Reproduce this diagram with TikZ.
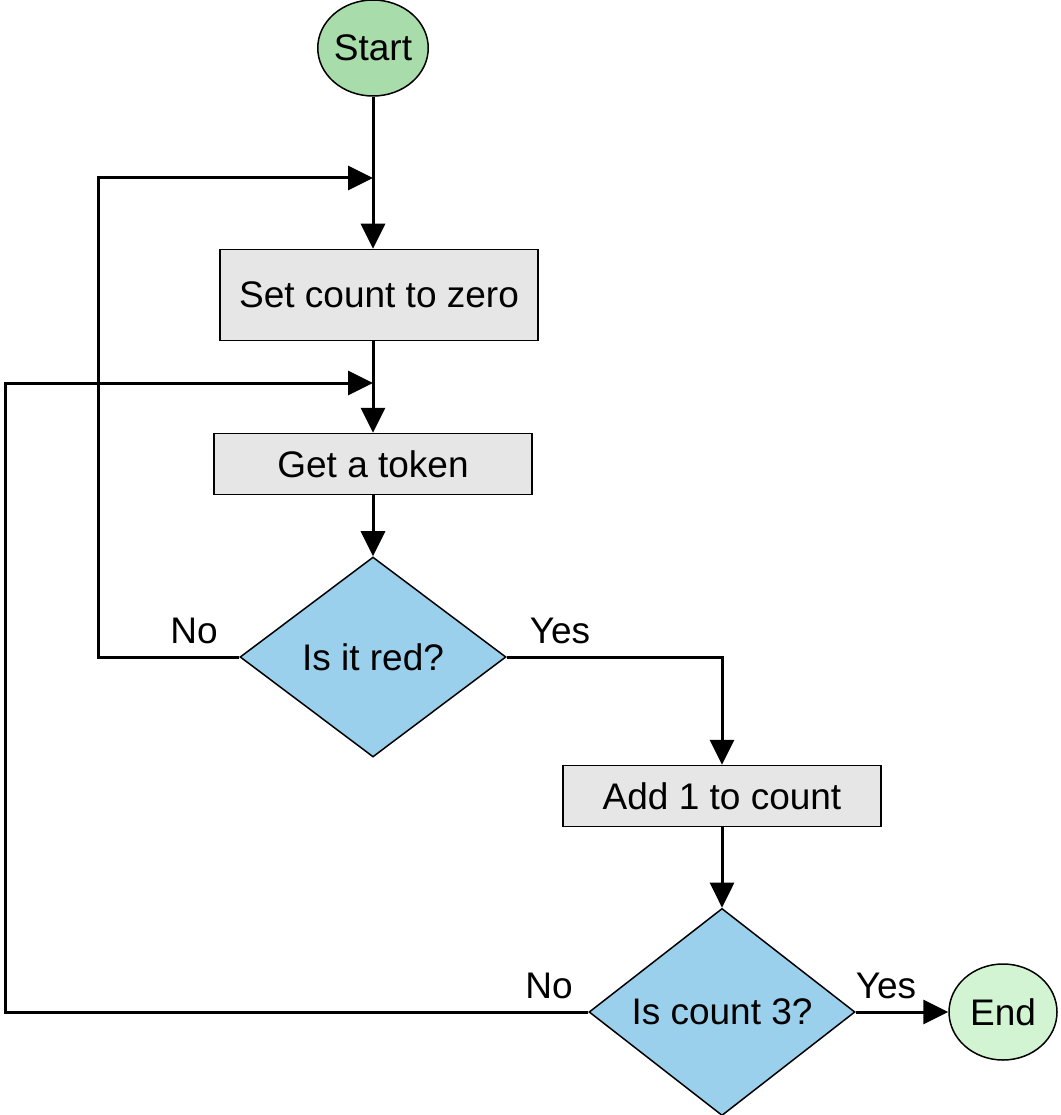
\documentclass[tikz,border=0pt]{standalone}
\usepackage{fontspec}
\setmainfont{Liberation Sans}
\usetikzlibrary{shapes.geometric}
\usetikzlibrary{arrows.meta}
\usetikzlibrary{positioning}
\usetikzlibrary{calc}
\definecolor{startgreen}{HTML}{A8DCAA}
\definecolor{endgreen}{HTML}{D2F4D2}
\definecolor{boxgrey}{HTML}{E6E6E6}
\definecolor{askblue}{HTML}{9BD0EC}
\tikzset{terminal/.style={ ellipse, draw, line width=1.5pt, fill=#1,
              minimum width=108pt, minimum height=96pt, inner sep=0pt },
            process/.style={ rectangle, draw, line width=1.5pt, fill=boxgrey,
              minimum width=318pt, minimum height=#1 },
            decision/.style={ diamond, draw, line width=1.5pt, fill=askblue,
              minimum width=266pt, minimum height=200pt, inner sep=0pt },
            flow/.style={ line width=3pt, -{Triangle[length=25pt,width=24pt]} }}

\begin{document}
\begin{tikzpicture}[x=1pt,y=-1pt,
            every node/.style={font=\fontsize{37pt}{44pt}\selectfont}]
            \useasboundingbox (0,0) rectangle (1060,1115);
            \node [terminal=startgreen] (start) at (373,48) {Start};
            \node [process=91pt] (zero) at (379,295) {Set count to zero};
            \node [process=61pt] (token) at (373,464) {Get a token};
            \node [decision] (red) at (373,657) {Is it red?};
            \node [process=61pt] (addone) at (722,796) {Add 1 to count};
            \node [decision] (three) at (722,1012) {Is count 3?};
            \node [terminal=endgreen] (finish) at (1003,1012) {End};
            \node (nored) at (194,631) {No};
            \node (yesred) at (560,631) {Yes};
            \node (nothree) at (549,986) {No};
            \node (yesthree) at (886,986) {Yes};
            \coordinate (loopA) at (373,178);
            \coordinate (loopB) at (373,383);
            \coordinate (bendA) at (98,178);
            \coordinate (bendB) at (5,383);
            \draw [flow] (start) -- (start |- zero.north);
            \draw [flow] (token |- zero.south) -- (token);
            \draw [flow] (token) -- (red);
            \draw [flow] (red.west) -| (bendA) -- (loopA);
            \draw [flow] (three.west) -| (bendB) -- (loopB);
            \draw [flow] (red.east) -| (addone.north);
            \draw [flow] (addone) -- (three);
            \draw [flow] (three) -- (finish);
        \end{tikzpicture}
\end{document}
